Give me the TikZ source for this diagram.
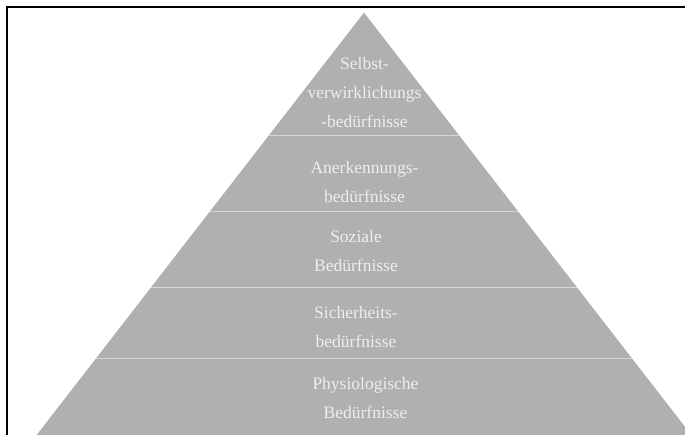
\documentclass[tikz,border=0pt]{standalone}
\usepackage{fontspec}
\setmainfont{Liberation Serif}
\usetikzlibrary{calc}
\definecolor{pyrfill}{HTML}{B0B0B0}
\definecolor{pyrsep}{HTML}{D6D6D6}
\definecolor{pyrtext}{HTML}{EEEEEE}
\begin{document}
\begin{tikzpicture}[x=1pt,y=-1pt,
  levellabel/.style={align=center,text=pyrtext,inner sep=0pt,
    font=\fontsize{17.5}{29}\selectfont},
  sepline/.style={draw=pyrsep,line width=1.8pt}]
\useasboundingbox (0,0) rectangle (685,434);
\begin{scope}
\clip (0,0) rectangle (685,434);
% frame
\draw[line width=2pt,black] (6.7,7.3) rectangle (720,470);
% pyramid
\coordinate (apex) at (364,12.6);
\coordinate (bl) at ($(apex)+(-0.775*450,450)$);
\coordinate (br) at ($(apex)+(0.775*450,450)$);
\fill[pyrfill] (apex) -- (bl) -- (br) -- cycle;
% separators
\foreach \yy in {135.5,211.5,287.5,358.5}{
  \draw[sepline] ($(apex)+(-0.775*\yy+0.775*12.6,\yy-12.6)$) -- ($(apex)+(0.775*\yy-0.775*12.6,\yy-12.6)$);
}
\end{scope}
\node[levellabel] (l1) at (364.5,92.5) {Selbst-\\verwirklichungs\\-bedürfnisse};
\node[levellabel] (l2) at (364.5,182.5) {Anerkennungs-\\bedürfnisse};
\node[levellabel] (l3) at (356,251.5) {Soziale\\Bedürfnisse};
\node[levellabel] (l4) at (356,327.5) {Sicherheits-\\bedürfnisse};
\node[levellabel] (l5) at (365.5,398.5) {Physiologische\\Bedürfnisse};
\end{tikzpicture}
\end{document}
